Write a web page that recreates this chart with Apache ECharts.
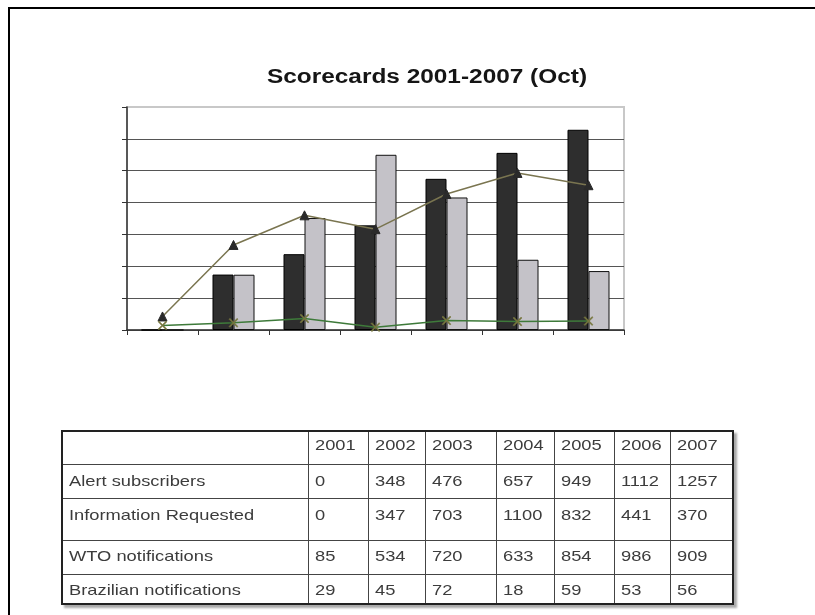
<!DOCTYPE html>
<html>
<head>
<meta charset="utf-8">
<script src="https://cdn.jsdelivr.net/npm/echarts@6/dist/echarts.min.js"></script>
<style>
  html, body { margin: 0; padding: 0; background: #fff; }
  #wrap { position: relative; width: 815px; height: 615px; overflow: hidden; }
  #chart { position: absolute; left: 0; top: 0; width: 815px; height: 615px; }
  #frame { position: absolute; left: 8px; top: 7px; width: 900px; height: 700px;
           border-left: 2px solid #000; border-top: 2px solid #000; pointer-events: none; }
  #tbl { position: absolute; left: 61px; top: 430px; border-collapse: collapse;
         border: 2px solid #222; box-shadow: 3px 3px 2px #aaa;
         font-family: "Liberation Sans", Arial, sans-serif; font-size: 15px; color: #3c3c3c;
         table-layout: fixed; }
  #tbl td { border: 1px solid #444; padding: 0 0 0 6px; vertical-align: top; white-space: nowrap; overflow: hidden; }
  #tbl td span { display: inline-block; transform: scaleX(1.22); transform-origin: 0 0; }
</style>
</head>
<body>
<div id="wrap">
  <div id="chart"></div>
  <div id="frame"></div>
  <table id="tbl"></table>
</div>
<script>
// ---- data ----
const title = 'Scorecards 2001-2007 (Oct)';
const years = ['2001', '2002', '2003', '2004', '2005', '2006', '2007'];
const alertSubscribers = [0, 348, 476, 657, 949, 1112, 1257];
const informationRequested = [0, 347, 703, 1100, 832, 441, 370];
const wtoNotifications = [85, 534, 720, 633, 854, 986, 909];
const brazilianNotifications = [29, 45, 72, 18, 59, 53, 56];
const rowNames = ['Alert subscribers', 'Information Requested', 'WTO notifications', 'Brazilian notifications'];
const rowValues = [alertSubscribers, informationRequested, wtoNotifications, brazilianNotifications];

// ---- layout (not data) ----
const colWidths = [246, 60, 57, 71, 58, 60, 56, 63];
const rowHeights = [33, 34, 42, 34, 30];
const rowPadTop = [4, 7, 7, 6, 6];

// ---- table ----
const tbl = document.getElementById('tbl');
const cg = document.createElement('colgroup');
colWidths.forEach(w => { const c = document.createElement('col'); c.style.width = w + 'px'; cg.appendChild(c); });
tbl.appendChild(cg);
function addRow(cells, ri) {
  const tr = document.createElement('tr');
  tr.style.height = rowHeights[ri] + 'px';
  cells.forEach(t => {
    const td = document.createElement('td');
    const sp = document.createElement('span');
    sp.textContent = t;
    td.appendChild(sp);
    td.style.paddingTop = rowPadTop[ri] + 'px';
    td.style.height = rowHeights[ri] + 'px';
    td.style.boxSizing = 'border-box';
    tr.appendChild(td);
  });
  tbl.appendChild(tr);
}
addRow([''].concat(years), 0);
rowNames.forEach((n, i) => addRow([n].concat(rowValues[i].map(String)), i + 1));

// ---- chart ----
const chart = echarts.init(document.getElementById('chart'), null, { renderer: 'canvas' });
const xMark = 'path://M0,1L1,0L5,4L9,0L10,1L6,5L10,9L9,10L5,6L1,10L0,9L4,5Z';
chart.setOption({
  animation: false,
  backgroundColor: '#fff',
  graphic: [{
    type: 'text', x: 427, y: 77, scaleX: 1.22,
    style: { text: title, font: 'bold 20px "Liberation Sans", Arial, sans-serif', fill: '#151515',
             textAlign: 'center', textVerticalAlign: 'middle' }
  }],
  grid: { left: 127, right: 191, top: 107, bottom: 285, show: true, borderColor: '#c8c8c8', borderWidth: 2, containLabel: false },
  xAxis: {
    type: 'category', data: years, boundaryGap: true,
    axisLine: { lineStyle: { color: '#333', width: 1.5 } },
    axisTick: { show: true, alignWithLabel: false, length: 5, lineStyle: { color: '#333' } },
    axisLabel: { show: false }
  },
  yAxis: {
    type: 'value', min: 0, max: 1400, interval: 200,
    axisLine: { show: true, lineStyle: { color: '#333', width: 1.5 } },
    axisTick: { show: true, length: 5, lineStyle: { color: '#333' } },
    axisLabel: { show: false },
    splitLine: { show: true, lineStyle: { color: ['#555', '#555', '#555', '#555', '#555', '#555', '#555', '#c8c8c8'], width: 1.2 } }
  },
  series: [
    { name: 'Alert subscribers', type: 'bar', data: alertSubscribers, barWidth: 21, barGap: '0%', z: 2,
      itemStyle: { color: '#2e2e2e', borderColor: '#000', borderWidth: 1 } },
    { name: 'Information Requested', type: 'bar', data: informationRequested, barWidth: 21, z: 2,
      itemStyle: { color: '#c4c2c8', borderColor: '#111', borderWidth: 1 } },
    { name: 'WTO notifications', type: 'line', data: wtoNotifications, z: 5,
      symbol: 'triangle', symbolSize: 9, showAllSymbol: true,
      lineStyle: { color: '#7a7550', width: 1.5 },
      itemStyle: { color: '#2a2a2a', borderColor: '#2a2a2a' } },
    { name: 'Brazilian notifications', type: 'line', data: brazilianNotifications, z: 5,
      symbol: xMark, symbolSize: 9, showAllSymbol: true,
      lineStyle: { color: '#3e7a3a', width: 1.5 },
      itemStyle: { color: '#76763e', borderColor: '#76763e', borderWidth: 0.5 } }
  ]
});
</script>
</body>
</html>
